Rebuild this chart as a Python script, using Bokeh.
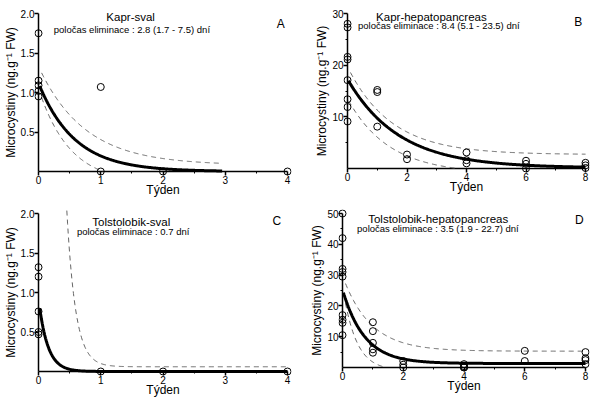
import numpy as np
from bokeh.plotting import figure
from bokeh.layouts import column, row
from bokeh.models import FixedTicker, Label, PrintfTickFormatter, Range1d
from bokeh.embed import file_html
from bokeh.resources import INLINE

FONT = "Liberation Sans"

# ---------------- data ----------------
# A: Kapr-sval
a_week = [0, 0, 0, 0, 0, 1, 1, 2, 4]
a_mc = [1.75, 1.15, 1.09, 1.02, 0.95, 1.07, 0.0, 0.0, 0.0]
# B: Kapr-hepatopancreas
b_week = [0, 0, 0, 0, 0, 0, 0, 0, 1, 1, 1, 2, 2, 4, 4, 4, 6, 6, 6, 8, 8, 8]
b_mc = [28.0, 27.3, 21.6, 21.1, 17.1, 13.4, 11.9, 9.1, 15.2, 14.8, 8.1,
        2.7, 1.8, 3.1, 1.6, 1.0, 1.5, 0.9, 0.0, 1.1, 0.6, 0.1]
# C: Tolstolobik-sval
c_week = [0, 0, 0, 0, 0, 1, 2, 4]
c_mc = [1.32, 1.20, 0.76, 0.50, 0.47, 0.0, 0.0, 0.0]
# D: Tolstolobik-hepatopancreas
d_week = [0, 0, 0, 0, 0, 0, 0, 0, 0, 1, 1, 1, 1, 1, 2, 2, 2, 4, 4, 4, 4, 6, 6, 8, 8, 8, 8]
d_mc = [50, 42, 32, 31, 29.5, 17, 15.5, 14.5, 10.5, 14.7, 11.8, 8.0, 5.9, 4.8,
        2.1, 0.9, 0.0, 1.1, 0.4, 0.0, 0.0, 5.4, 2.1, 5.0, 3.0, 2.4, 1.1]

# fitted exponential elimination curves: (plateau, amplitude, rate per week, t_start, t_end)
a_fit = (0.0, 1.12, 1.733, 0.02, 2.95)
a_hi = (0.08, 1.25, 1.35, 0.05, 2.95)
a_lo = (-0.15, 1.2, 2.0, 0.05, 2.95)
b_fit = (0.1, 17.2, 0.578, 0.03, 8)
b_hi = (2.7, 17.0, 0.68, 0.1, 8)
b_lo = (-1.0, 14.5, 0.72, 0.04, 8)
c_fit = (0.0, 0.92, 6.93, 0.02, 4)
c_hi = (0.06, 50.0, 7.1, 0.455, 4)
d_fit = (1.3, 24.0, 1.386, 0.03, 8)
d_hi = (5.3, 24.5, 1.1, 0.1, 8)
d_lo = (-1.0, 27.5, 2.3, 0.1, 8)

titles = ["Kapr-sval", "Kapr-hepatopancreas", "Tolstolobik-sval", "Tolstolobik-hepatopancreas"]
subtitles = ["poločas eliminace : 2.8 (1.7 - 7.5) dní",
             "poločas eliminace : 8.4 (5.1 - 23.5) dní",
             "poločas eliminace : 0.7 dní",
             "poločas eliminace : 3.5 (1.9 - 22.7) dní"]
letters = ["A", "B", "C", "D"]

x_label = "Týden"
y_label = "Microcystiny (ng.g⁻¹ FW)"


def curve(params):
    c, a, k, t0, t1 = params
    t = np.linspace(t0, t1, 300)
    y = c + a * np.exp(-k * t)
    keep = y >= 0
    return t[keep], y[keep]


PAD = 4  # px of empty frame around the axis origin so markers on the axes are not clipped


def panel(week, mc, fit, bands, xmax, ymax, xt, xm, yt, ym, yfmt, geom, texts):
    X0, X1, YT, Y0, colL, colR, rowT, rowB = geom
    sx = (X1 - X0) / xmax
    sy = (Y0 - YT) / ymax
    p = figure(frame_width=X1 - X0 + 2 * PAD, frame_height=Y0 - YT + 2 * PAD,
               x_range=Range1d(-PAD / sx, xmax + PAD / sx),
               y_range=Range1d(-PAD / sy, ymax + PAD / sy),
               min_border_left=X0 - PAD - colL, min_border_right=colR - (X1 + PAD),
               min_border_top=YT - PAD - rowT, min_border_bottom=rowB - (Y0 + PAD),
               output_backend="svg", toolbar_location=None)
    p.outline_line_color = None
    p.grid.visible = False
    p.background_fill_color = "white"
    p.border_fill_color = "white"

    # axis lines through the origin, spanning the axis bounds
    p.segment(x0=[0, 0], y0=[0, 0], x1=[xmax, 0], y1=[0, ymax],
              line_width=1.5, line_color="black")
    for b in bands:
        tx, ty = curve(b)
        p.line(tx, ty, line_width=1, line_color="#666666", line_dash="5 4")
    tx, ty = curve(fit)
    p.line(tx, ty, line_width=3, line_color="black")
    p.scatter(week, mc, marker="circle", size=7, fill_color=None,
              line_color="black", line_width=1)

    for ax, ticks, minor in ((p.xaxis[0], xt, xm), (p.yaxis[0], yt, ym)):
        ax.ticker = FixedTicker(ticks=ticks, minor_ticks=minor)
        ax.axis_line_color = None
        ax.major_tick_line_width = 1.5
        ax.major_tick_line_color = "black"
        ax.minor_tick_line_width = 1
        ax.minor_tick_line_color = "black"
        ax.major_tick_out = 0
        ax.major_tick_in = PAD
        ax.minor_tick_out = -2
        ax.minor_tick_in = PAD
        ax.major_label_standoff = 0
        ax.major_label_text_font = FONT
        ax.major_label_text_font_size = "10px"
        ax.major_label_text_color = "black"
        ax.axis_label_text_font = FONT
        ax.axis_label_text_font_size = "12px"
        ax.axis_label_text_font_style = "normal"
        ax.axis_label_text_color = "black"
    p.xaxis.axis_label = x_label
    p.xaxis.axis_label_standoff = -4
    p.yaxis.axis_label = y_label
    p.yaxis.axis_label_standoff = 0
    if yfmt:
        p.yaxis.formatter = PrintfTickFormatter(format=yfmt)

    (tx_, ty_), (sx_, sy_), (lx_, ly_), title, sub, let = texts
    p.add_layout(Label(x=tx_, y=ty_, text=title, text_font=FONT, text_font_size="11.5px",
                       text_align="center", text_baseline="middle", text_color="black"))
    p.add_layout(Label(x=sx_, y=sy_, text=sub, text_font=FONT, text_font_size="9.5px",
                       text_align="center", text_baseline="middle", text_color="black"))
    p.add_layout(Label(x=lx_, y=ly_, text=let, text_font=FONT, text_font_size="12px",
                       text_align="center", text_baseline="middle", text_color="black"))
    return p


pA = panel(a_week, a_mc, a_fit, [a_hi, a_lo], 4, 2.0,
           [0, 1, 2, 3, 4], [0.5, 1.5, 2.5, 3.5], [0.5, 1.0, 1.5, 2.0], [], "%.1f",
           (38, 287, 12, 170, 0, 298, 0, 199),
           ((1.48, 1.95), (1.50, 1.80), (3.89, 1.87), titles[0], subtitles[0], letters[0]))
pB = panel(b_week, b_mc, b_fit, [b_hi, b_lo], 8, 30,
           [0, 2, 4, 6, 8], [1, 3, 5, 7], [10, 20, 30], [5, 15, 25], None,
           (347, 585, 13, 168, 298, 592, 0, 199),
           ((2.82, 29.4), (3.07, 27.7), (7.76, 28.3), titles[1], subtitles[1], letters[1]))
pC = panel(c_week, c_mc, c_fit, [c_hi], 4, 2.0,
           [0, 1, 2, 3, 4], [0.5, 1.5, 2.5, 3.5], [0.5, 1.0, 1.5, 2.0], [], "%.1f",
           (38, 287, 211, 369, 0, 298, 199, 398),
           ((1.49, 1.89), (1.52, 1.77), (3.83, 1.90), titles[2], subtitles[2], letters[2]))
pD = panel(d_week, d_mc, d_fit, [d_hi, d_lo], 8, 50,
           [0, 2, 4, 6, 8], [1, 3, 5, 7], [10, 20, 30, 40, 50], [5, 15, 25, 35, 45], None,
           (342, 585, 213, 367, 298, 592, 199, 398),
           ((3.15, 48.3), (3.14, 45.1), (7.80, 48.0), titles[3], subtitles[3], letters[3]))

layout = column(row(pA, pB), row(pC, pD))
open("out.html", "w").write(file_html(layout, INLINE))
